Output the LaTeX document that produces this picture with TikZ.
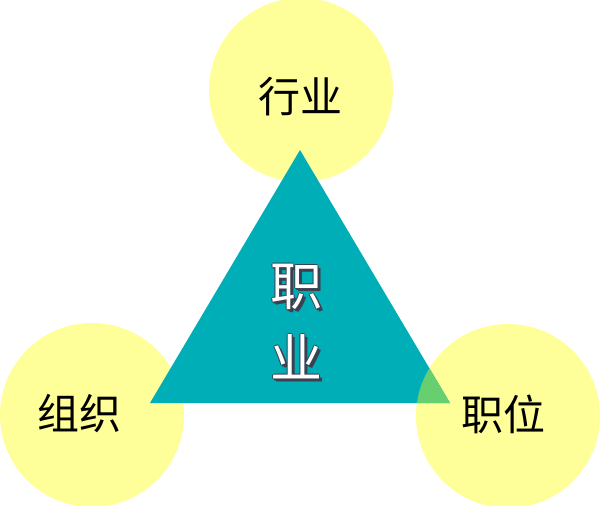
\documentclass[tikz,border=0pt]{standalone}
\usepackage{fontspec}
\newfontfamily\cjk{Noto Sans CJK SC}
\usetikzlibrary{positioning}

\definecolor{bubblefill}{HTML}{FFFF99}
\definecolor{triteal}{HTML}{00AEB8}
\definecolor{overlapgreen}{HTML}{68CF70}
\definecolor{shadowgray}{HTML}{3A4150}

\begin{document}
\begin{tikzpicture}[
    x=1pt, y=-1pt,
    bubble/.style={circle, fill=bubblefill, minimum size=184pt, inner sep=0pt},
    tag/.style={font=\cjk\fontsize{42}{48}\selectfont, inner sep=0pt},
    core/.style={font=\cjk\fontsize{52}{60}\selectfont, inner sep=0pt, text=white},
    coreshadow/.style={core, text=shadowgray}
]
\useasboundingbox (0,0) rectangle (600,506);

% circles
\node[bubble] (hangye) at (301,90) {};
\node[bubble] (zuzhi) at (92,415) {};
\node[bubble] (zhiwei) at (508,416) {};

% triangle
\coordinate (apex) at (300,150);
\coordinate (baseL) at (150,403);
\coordinate (baseR) at (450,403);
\fill[triteal] (apex) -- (baseL) -- (baseR) -- cycle;
\begin{scope}
  \clip (zhiwei.center) circle[radius=92];
  \fill[overlapgreen] (apex) -- (baseL) -- (baseR) -- cycle;
\end{scope}

% labels
\node[tag] (thangye) at (300,97) {行业};
\node[tag] (tzuzhi) at (79,414) {组织};
\node[tag] (tzhiwei) at (503,414) {职位};

% centre text with shadow
\foreach \dx/\dy in {1.5/1.5, 3/3, -1/0, 1/0, 0/-1, 0/1} {
  \node[coreshadow] at (296+\dx,287+\dy) {职};
  \node[coreshadow] at (296+\dx,357+\dy) {业};
}
\node[core] (zhi) at (296,287) {职};
\node[core] (ye) at (296,357) {业};
\end{tikzpicture}
\end{document}
